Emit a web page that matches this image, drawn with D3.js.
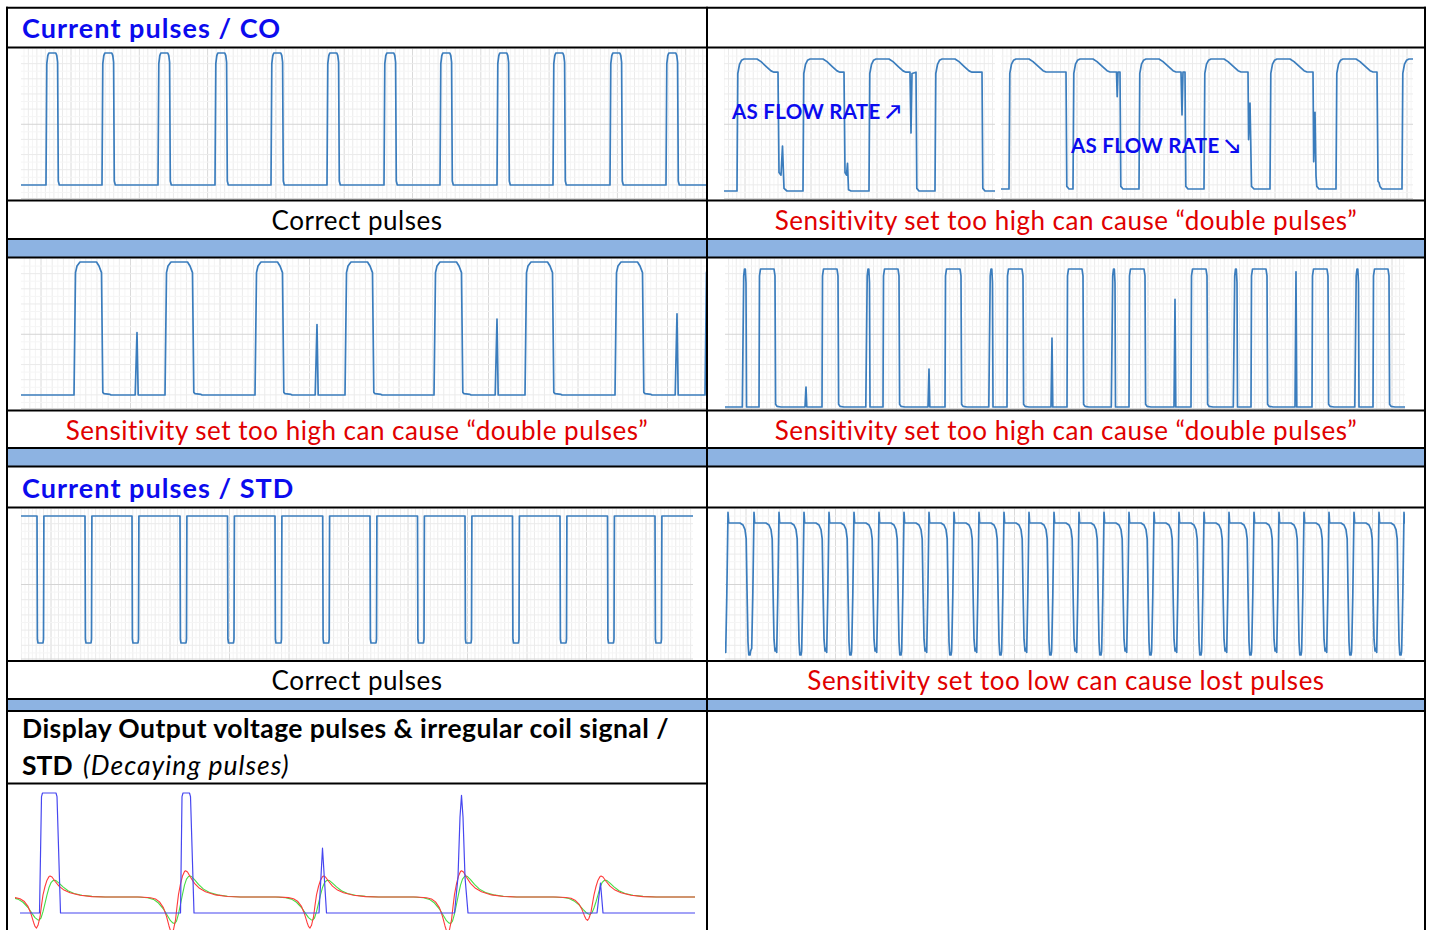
<!DOCTYPE html>
<html>
<head>
<meta charset="utf-8">
<title>Pulse signals</title>
<script src="https://cdn.jsdelivr.net/npm/d3@7"></script>
<style>
  body { margin: 0; background: #fff; }
  svg { display: block; }
  text { font-family: Lato, "Open Sans", "DejaVu Sans", sans-serif; }
</style>
</head>
<body>
<script>
// ---------------------------------------------------------------------------
// Texts
var headTitles = ["Current pulses / CO", "Current pulses / STD"];
var captionLeft = ["Correct pulses",
    "Sensitivity set too high can cause \u201cdouble pulses\u201d",
    "Correct pulses"];
var captionRight = ["Sensitivity set too high can cause \u201cdouble pulses\u201d",
    "Sensitivity set too high can cause \u201cdouble pulses\u201d",
    "Sensitivity set too low can cause lost pulses"];
var captionLeftFault = [false, true, false];
var flowLabels = ["AS FLOW RATE \u2197", "AS FLOW RATE \u2198"];
var decayTitle = ["Display Output voltage pulses & irregular coil signal /",
    "STD", "(Decaying pulses)"];

// ---------------------------------------------------------------------------
// Signals. time = trace units from the left edge of each trace,
// level 0 = low, 1 = high

// CO, correct pulses
var coStarts = [25, 81, 137, 194, 250, 306, 363, 419, 476, 532, 589, 645];
var coShape = [[0, 0], [0.8, 0.92], [1.8, 0.98], [2.8, 1], [9.8, 1],
    [10.8, 0.98], [11.6, 0.93], [12.3, 0.03], [13.3, 0]];

// CO, flow rate going up / down (two screen grabs)
var flowTop = [[0, 0], [0.8, 0.89], [2.5, 0.96], [4.5, 0.99], [7, 1], [20, 1],
    [24, 0.98], [29, 0.945], [34, 0.91], [37, 0.9]];
var flowRisesA = [13, 79, 145, 211];
var flowFallsA = [54, 120, 192, 258];
var flowTailsA = [
    [[0, 0.9], [1, 0.14], [3, 0.12], [4.5, 0.34], [6, 0.02], [9, 0]],
    [[0, 0.9], [1, 0.14], [2.5, 0.12], [3.5, 0.21], [4.5, 0.01], [7, 0]],
    [[-6, 0.9], [-5, 0.44], [-4, 0.89], [0, 0.9], [0.8, 0.02], [3, 0]],
    [[0, 0.9], [0.8, 0.02], [3, 0]]
];
var flowRisesB = [8, 72, 138, 203, 269, 335, 401];
var flowFallsB = [65, 119, 184, 247, 312, 376, null];
var flowTailsB = [
    [[0, 0.9], [0.8, 0.02], [3, 0]],
    [[-3.5, 0.9], [-2.8, 0.71], [-2, 0.9], [0, 0.9], [0.8, 0.02], [3, 0]],
    [[-4, 0.9], [-3, 0.57], [-2, 0.9], [0, 0.9], [0.8, 0.02], [3, 0]],
    [[0, 0.9], [0.6, 0.38], [2, 0.66], [2.7, 0.38], [3.5, 0.02], [6, 0]],
    [[0, 0.9], [0.7, 0.21], [2, 0.59], [3, 0.1], [3.8, 0.02], [6, 0]],
    [[0, 0.9], [1, 0.06], [2, 0.05], [3, 0.02], [5, 0]],
    []
];

// double pulses, left trace
var dblStartsL = [53, 144, 234, 324, 413, 504, 594, 684];
var dblShapeL = [[0, 0], [1.5, 0.92], [3, 0.97], [6, 1], [22.5, 1], [25, 0.97],
    [27.5, 0.92], [28.8, 0.02], [30, 0.01], [36, 0.005], [37, 0]];
var dblSpikesL = [116, 296, 476, 656];
var dblSpikeLevelsL = [0.47, 0.53, 0.57, 0.61];
var spikeShape = [[-1.8, 0], [0, 1], [1.2, 0]];

// double pulses, right trace
var dblStartsR = [34, 97, 158, 220, 282, 342, 404, 466, 526, 587, 648];
var dblShapeR = [[0, 0], [0.5, 0.95], [1.5, 1], [15, 1], [16, 0.95],
    [16.6, 0.02], [18, 0.005], [22, 0]];
var dblNarrowR = [19.5, 143, 266, 388.5, 510.5, 632];
var narrowShape = [[-2.2, 0], [-0.8, 0.95], [0, 1], [0.8, 1], [1.5, 0.9], [2, 0]];
var dblSpikesR = [81, 204, 327, 450, 571];
var dblSpikeLevelsR = [0.145, 0.275, 0.5, 0.78, 0.98];

// STD, correct pulses (dips)
var stdFalls = [16, 64, 111, 159, 206.5, 254, 301.7, 349, 396.5, 444, 491.5,
    539, 586.5, 634];
var stdShape = [[0, 1], [0.4, 0.03], [1, 0], [6, 0], [6.5, 0.03], [6.9, 1]];

// STD, lost pulses
var lostRises = [3, 29, 54, 79, 104, 129, 154, 179, 204, 229, 254, 279, 304,
    329, 354, 379, 404, 429, 454, 479, 504, 529, 554, 579, 604, 629, 654, 679];
var lostKinds = ["d", "s", "d", "s", "d", "s", "d", "s", "d", "s", "d", "s",
    "d", "s", "d", "s", "d", "s", "d", "s", "d", "s", "d", "s", "d", "s", "d", "s"];
var lostShapeDeep = [[-2.3, 0.02], [-1.2, 0.45], [0, 1.08], [0.7, 1], [12, 1],
    [15, 0.985], [17, 0.95], [18.2, 0.88], [19, 0.5], [20, 0.1], [20.8, 0],
    [22, 0], [22.6, 0.03]];
var lostShapeShallow = [[-2.3, 0.05], [-1.2, 0.45], [0, 1.08], [0.7, 1], [12, 1],
    [15, 0.985], [17, 0.95], [18.2, 0.88], [19, 0.5], [20, 0.12], [21, 0.03],
    [22, 0.05]];

// STD, display output (blue) and coil signal (red / green)
var blueTrace = [[0, 0], [19.5, 0], [21.5, 0.97], [22.5, 1], [36, 1], [37, 0.97],
    [40.5, 0], [160.5, 0], [162, 0.97], [163, 1], [169.5, 1], [170.5, 0.97],
    [174, 0], [299, 0], [302.5, 0.54], [306.5, 0], [434.5, 0], [438, 0.3],
    [440, 0.8], [441.5, 0.98], [443, 0.8], [445, 0.3], [448, 0], [577, 0],
    [580.5, 0.25], [583, 0], [675, 0]];
var coilPeaks = [30, 165.5, 303.5, 441.5, 581];
var coilPeakGain = [1.0, 1.25, 1.0, 1.25, 1.0];
var coilDipGain = [1.0, 1.15, 1.0, 1.15, 0.75];
var redShape = [[-45, 0], [-35, -0.03], [-30, -0.08], [-26, -0.2], [-22, -0.45],
    [-19, -0.8], [-16.5, -1.2], [-15, -1.4], [-13.5, -1.48], [-12, -1.35],
    [-10, -0.95], [-8.5, -0.4], [-7, 0.1], [-5, 0.5], [-3, 0.8], [-1, 0.97],
    [0, 1], [2, 0.95], [5, 0.75], [9, 0.52], [14, 0.33], [20, 0.2], [30, 0.08],
    [42, 0.02], [55, 0]];
var greenShape = [[-48, 0], [-38, -0.03], [-32, -0.1], [-27, -0.25], [-22, -0.5],
    [-18, -0.78], [-15, -0.98], [-12.5, -1.08], [-11, -1.1], [-9, -1.0],
    [-7, -0.7], [-5, -0.3], [-3, 0.1], [-1, 0.45], [1, 0.68], [3, 0.78],
    [4.5, 0.8], [6, 0.78], [9, 0.66], [13, 0.48], [18, 0.3], [24, 0.17],
    [32, 0.08], [42, 0.03], [55, 0]];

// ---------------------------------------------------------------------------
var traceColor = "#3b7dbd";
var headBlue = "#0b0bee";
var faultRed = "#e00000";
var bandBlue = "#8db3e2";

var svg = d3.select("body").append("svg")
    .attr("width", 1430)
    .attr("height", 930);

var clipCount = 0;

// copies of a shape placed at each time, optionally scaled
function repeatShape(times, shape, levels) {
    var pts = [];
    times.forEach(function (t, i) {
        var k = levels ? levels[i] : 1;
        shape.forEach(function (p) { pts.push([t + p[0], p[1] * k]); });
    });
    return pts;
}

function byTime(a, b) { return a[0] - b[0]; }

function flowTrace(rises, falls, tails, end) {
    var pts = [[0, 0]];
    rises.forEach(function (r, i) {
        var f = falls[i], tail = tails[i];
        var cut = f == null ? Infinity : f - r + (tail.length ? tail[0][0] : 0);
        flowTop.forEach(function (p) {
            if (p[0] < cut) pts.push([r + p[0], p[1]]);
        });
        if (f != null) tail.forEach(function (p) { pts.push([f + p[0], p[1]]); });
    });
    if (falls[falls.length - 1] != null) pts.push([end, 0]);
    return pts;
}

// scope style grid
function drawGrid(g, x0, y0, w, h, major, offset) {
    var step = major / 16;
    var xs = d3.range(offset - major * 2, w, step).filter(function (d) {
        return d >= 0;
    });
    g.selectAll(null).data(xs).enter().append("line")
        .attr("x1", function (d) { return x0 + d; })
        .attr("x2", function (d) { return x0 + d; })
        .attr("y1", y0).attr("y2", y0 + h)
        .attr("stroke", function (d) {
            var k = Math.round((d - offset) / step);
            k = ((k % 16) + 16) % 16;
            return k === 0 ? "#dadada" : (k % 2 === 0 ? "#ebebeb" : "#f5f5f5");
        })
        .attr("stroke-width", 1);
    var ys = d3.range(1, 20);
    g.selectAll(null).data(ys).enter().append("line")
        .attr("x1", x0).attr("x2", x0 + w)
        .attr("y1", function (d) { return y0 + d * h / 20; })
        .attr("y2", function (d) { return y0 + d * h / 20; })
        .attr("stroke", function (d) {
            return d === 10 ? "#d4d4d4" : (d % 2 === 0 ? "#ebebeb" : "#f5f5f5");
        })
        .attr("stroke-width", 1);
    // bottom axis line
    g.append("line")
        .attr("x1", x0).attr("x2", x0 + w)
        .attr("y1", y0 + h - 1.5).attr("y2", y0 + h - 1.5)
        .attr("stroke", "#d8d8d8");
}

function makePanel(x0, y0, w, h, grid) {
    var id = "clip" + (clipCount++);
    svg.append("clipPath").attr("id", id)
        .append("rect")
        .attr("x", x0).attr("y", y0).attr("width", w).attr("height", h);
    var g = svg.append("g").attr("clip-path", "url(#" + id + ")");
    g.append("rect")
        .attr("x", x0).attr("y", y0).attr("width", w).attr("height", h)
        .attr("fill", "#fff");
    if (grid) drawGrid(g, x0, y0, w, h, grid[0], grid[1]);
    return g;
}

function drawTrace(g, pts, x0, w, lowY, highY, color, width) {
    var x = d3.scaleLinear().domain([0, w]).range([x0, x0 + w]);
    var y = d3.scaleLinear().domain([0, 1]).range([lowY, highY]);
    var line = d3.line()
        .x(function (d) { return x(d[0]); })
        .y(function (d) { return y(d[1]); });
    g.append("path")
        .datum(pts)
        .attr("d", line)
        .attr("fill", "none")
        .attr("stroke", color || traceColor)
        .attr("stroke-width", width || 1.7)
        .attr("stroke-linejoin", "round");
}

// ---- row 1 : CO
var p1 = makePanel(21, 48.5, 685, 151.5, [68.3, 50]);
drawTrace(p1, [[0, 0]].concat(repeatShape(coStarts, coShape), [[685, 0]]),
    21, 685, 185, 53);

var p1a = makePanel(724, 48.5, 271, 151.5, [66, 21]);
drawTrace(p1a, flowTrace(flowRisesA, flowFallsA, flowTailsA, 271),
    724, 271, 191, 59);
var p1b = makePanel(1001, 48.5, 412, 151.5, [66, 10]);
drawTrace(p1b, flowTrace(flowRisesB, flowFallsB, flowTailsB, 412),
    1001, 412, 189, 59);

// ---- row 2 : double pulses
var p2 = makePanel(21, 258.5, 685, 151.5, [89.5, 20]);
var pts2 = [[0, 0]].concat(repeatShape(dblStartsL, dblShapeL),
    repeatShape(dblSpikesL, spikeShape, dblSpikeLevelsL)).sort(byTime);
drawTrace(p2, pts2, 21, 685, 395, 262);

var p2r = makePanel(725, 258.5, 680, 151.5, [61, 57]);
var pts2r = [[0, 0]].concat(repeatShape(dblStartsR, dblShapeR),
    repeatShape(dblNarrowR, narrowShape),
    repeatShape(dblSpikesR, [[-1, 0], [0, 1], [0.8, 0]], dblSpikeLevelsR),
    [[680, 0]]).sort(byTime);
drawTrace(p2r, pts2r, 725, 680, 407, 269);

// ---- row 3 : STD
var p3 = makePanel(21, 508.5, 672, 152, [59.5, 30]);
drawTrace(p3, [[0, 1]].concat(repeatShape(stdFalls, stdShape), [[672, 1]]),
    21, 672, 643, 516);

var p3r = makePanel(725, 508.5, 680, 152, [89.5, 21]);
var lostPts = [[0, 0.1]];
lostRises.forEach(function (r, i) {
    var shape = lostKinds[i] === "d" ? lostShapeDeep : lostShapeShallow;
    shape.forEach(function (p) { lostPts.push([r + p[0], p[1]]); });
});
drawTrace(p3r, lostPts, 725, 680, 655, 523);

// ---- row 4 : display output and coil signal
var p4 = makePanel(15, 784.5, 680, 146, null);
function coilTrace(shape) {
    var pts = [];
    coilPeaks.forEach(function (t, i) {
        shape.forEach(function (p) {
            var k = p[1] >= 0 ? coilPeakGain[i] : coilDipGain[i];
            pts.push([t + p[0], p[1] * k]);
        });
    });
    return [[-60, 0]].concat(pts, [[700, 0]]).sort(byTime);
}
drawTrace(p4, coilTrace(greenShape), 20, 675, 897, 876, "#44dd44", 1.1);
drawTrace(p4, coilTrace(redShape), 20, 675, 897, 876, "#ff3b3b", 1.1);
drawTrace(p4, blueTrace, 20, 675, 913, 793, "#4747f0", 1.2);

// ---------------------------------------------------------------------------
// table : shaded separator bands and borders
var bands = [[239, 257.5], [448, 466.5], [699, 711]];
svg.selectAll(null).data(bands).enter().append("rect")
    .attr("x", 7).attr("width", 1418)
    .attr("y", function (d) { return d[0]; })
    .attr("height", function (d) { return d[1] - d[0]; })
    .attr("fill", bandBlue);

var hLines = [[7.7, 7, 1425], [47.5, 7, 1425], [200.5, 7, 1425], [239, 7, 1425],
    [257.5, 7, 1425], [410.5, 7, 1425], [448, 7, 1425], [466.5, 7, 1425],
    [507.5, 7, 1425], [661, 7, 1425], [699, 7, 1425], [711, 7, 1425],
    [783.5, 7, 707]];
svg.selectAll(null).data(hLines).enter().append("line")
    .attr("x1", function (d) { return d[1] - 1; })
    .attr("x2", function (d) { return d[2] + 1; })
    .attr("y1", function (d) { return d[0]; })
    .attr("y2", function (d) { return d[0]; })
    .attr("stroke", "#000").attr("stroke-width", 2);

var vLines = [7, 707, 1425];
svg.selectAll(null).data(vLines).enter().append("line")
    .attr("x1", function (d) { return d; })
    .attr("x2", function (d) { return d; })
    .attr("y1", 6.7).attr("y2", 930)
    .attr("stroke", "#000").attr("stroke-width", 2);

// ---------------------------------------------------------------------------
// texts (Calibri-like widths: Lato a bit bigger, slightly spaced)
var headY = [38, 498];
svg.selectAll(null).data(headTitles).enter().append("text")
    .attr("x", 22)
    .attr("y", function (d, i) { return headY[i]; })
    .text(function (d) { return d; })
    .attr("fill", headBlue)
    .style("font-size", "27px")
    .style("letter-spacing", "1.05px")
    .style("font-weight", "bold");

var flowPos = [[732, 119], [1071, 153]];
svg.selectAll(null).data(flowLabels).enter().append("text")
    .attr("x", function (d, i) { return flowPos[i][0]; })
    .attr("y", function (d, i) { return flowPos[i][1]; })
    .text(function (d) { return d; })
    .attr("fill", headBlue)
    .style("font-size", "20.5px")
    .style("letter-spacing", "0.3px")
    .style("font-weight", "bold");

var captionY = [230, 440, 690];
svg.selectAll(null).data(captionLeft).enter().append("text")
    .attr("x", 357)
    .attr("y", function (d, i) { return captionY[i]; })
    .attr("text-anchor", "middle")
    .text(function (d) { return d; })
    .attr("fill", function (d, i) { return captionLeftFault[i] ? faultRed : "#000"; })
    .style("font-size", "26px")
    .style("letter-spacing", "0.5px");
svg.selectAll(null).data(captionRight).enter().append("text")
    .attr("x", 1066)
    .attr("y", function (d, i) { return captionY[i]; })
    .attr("text-anchor", "middle")
    .text(function (d) { return d; })
    .attr("fill", faultRed)
    .style("font-size", "26px")
    .style("letter-spacing", "0.5px");

svg.append("text")
    .attr("x", 22).attr("y", 738)
    .text(decayTitle[0])
    .style("font-size", "26.5px")
    .style("letter-spacing", "0.45px")
    .style("font-weight", "bold");
var t2 = svg.append("text")
    .attr("x", 22).attr("y", 775)
    .style("font-size", "26.5px");
t2.append("tspan").text(decayTitle[1]).style("font-weight", "bold");
t2.append("tspan").attr("x", 83).text(decayTitle[2])
    .style("font-style", "italic")
    .style("letter-spacing", "1px");
</script>
</body>
</html>
